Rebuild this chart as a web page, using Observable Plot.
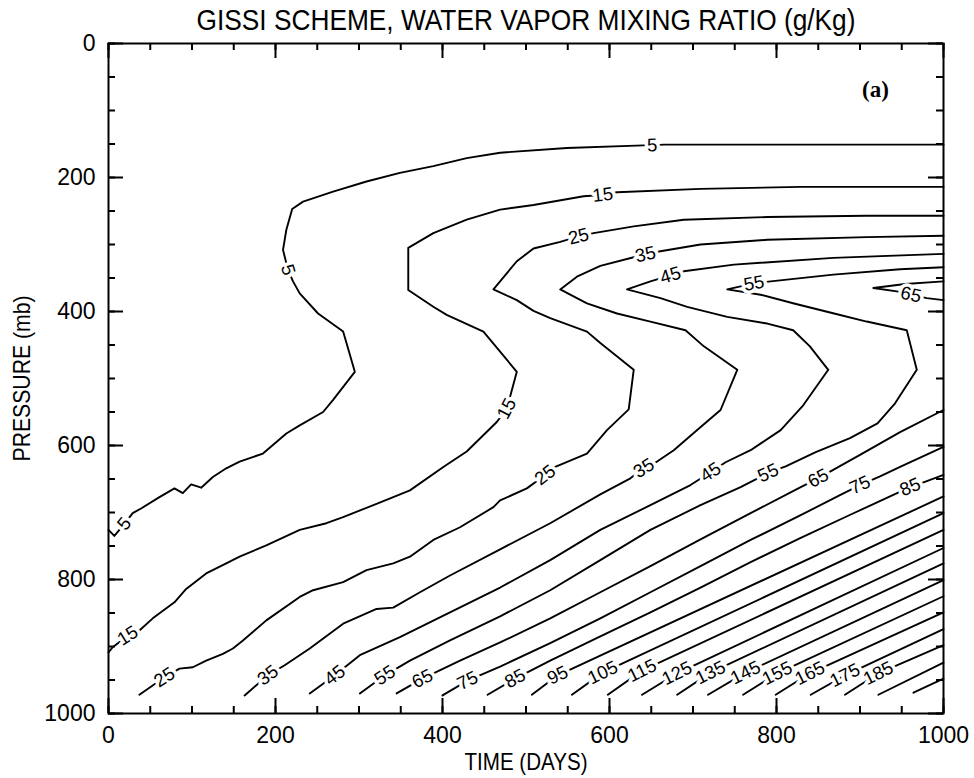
<!DOCTYPE html>
<html lang="en">
<head>
<meta charset="utf-8">
<title>GISSI scheme, water vapor mixing ratio</title>
<script src="https://cdn.jsdelivr.net/npm/d3@7"></script>
<script src="https://cdn.jsdelivr.net/npm/@observablehq/plot@0.6"></script>
<style>
  html, body { margin: 0; padding: 0; background: #fff; }
  #chart svg { display: block; }
</style>
</head>
<body>
<div id="chart"></div>
<script>
// Axis tick values
const timeLabels = [0, 200, 400, 600, 800, 1000];
const timeTicks = [0, 50, 100, 150, 200, 250, 300, 350, 400, 450, 500, 550, 600, 650, 700, 750, 800, 850, 900, 950, 1000];
const pressureLabels = [0, 200, 400, 600, 800, 1000];
const pressureTicks = [0, 50, 100, 150, 200, 250, 300, 350, 400, 450, 500, 550, 600, 650, 700, 750, 800, 850, 900, 950, 1000];

// Mixing-ratio isolines, each point is [time (days), pressure (mb)]
const q5 = [[1000,151],[909,151],[789,151],[665,151],[651,152],[641,152],[549,156],[469,163],[429,171],[389,183],[349,193],[309,206],[269,221],[233,236],[220,247],[213,278],[209,308],[215,338],[221,355],[229,373],[251,403],[281,430],[295,490],[269,532],[257,550],[229,570],[213,582],[185,612],[157,624],[141,634],[125,647],[111,663],[99,658],[89,671],[79,664],[61,677],[39,694],[29,701],[19,717],[7,735],[0,726]];
const q15 = [[1000,214],[829,214],[709,217],[609,222],[592,226],[569,228],[509,241],[469,248],[429,263],[389,283],[359,305],[359,368],[389,393],[405,405],[449,430],[489,490],[481,527],[477,545],[465,565],[429,609],[401,632],[361,667],[341,677],[321,687],[281,707],[261,716],[229,726],[189,749],[157,766],[141,776],[117,791],[93,814],[79,834],[53,858],[37,876],[23,884],[5,901],[0,909]];
const q25 = [[1000,257],[908,257],[789,259],[689,263],[629,273],[581,283],[563,288],[541,296],[509,306],[489,325],[461,367],[489,383],[509,399],[529,410],[573,430],[589,447],[629,487],[623,546],[597,577],[573,612],[535,632],[523,644],[501,664],[469,682],[461,692],[421,722],[389,741],[361,766],[341,776],[309,786],[281,804],[245,816],[229,826],[189,861],[161,891],[149,903],[137,911],[117,921],[101,931],[85,933],[67,946],[37,972]];
const q35 = [[1000,287],[908,289],[789,293],[709,300],[661,310],[643,315],[629,319],[589,332],[561,348],[541,367],[573,388],[609,403],[649,415],[691,428],[713,452],[753,487],[733,547],[705,577],[677,607],[657,624],[641,634],[625,649],[589,673],[529,716],[469,755],[409,794],[373,819],[341,842],[321,844],[281,866],[241,903],[211,928],[191,943],[163,973]];
const q45 = [[1000,314],[868,320],[749,330],[689,340],[673,346],[649,355],[621,367],[661,380],[693,393],[741,408],[789,418],[820,428],[840,452],[862,487],[832,540],[805,577],[769,607],[739,625],[721,640],[697,659],[649,689],[589,726],[529,771],[469,812],[409,849],[349,886],[301,913],[271,943],[241,970]];
const q55 = [[1000,334],[948,337],[868,345],[793,355],[773,358],[741,367],[781,375],[821,388],[869,403],[908,415],[956,428],[968,487],[942,537],[921,567],[888,589],[847,610],[811,631],[790,641],[757,662],[709,689],[649,726],[589,771],[529,816],[469,855],[409,891],[361,921],[331,943],[301,970]];
const q65upper = [[1000,355],[954,359],[916,365],[944,370],[961,375],[980,380],[1000,383]];
const q65lower = [[1000,547],[948,580],[900,614],[870,635],[850,649],[829,662],[769,701],[709,740],[649,780],[589,819],[529,858],[469,894],[421,921],[376,948],[345,970]];
const q75 = [[1000,602],[948,632],[924,646],[900,659],[876,674],[829,704],[769,741],[709,780],[649,819],[589,858],[529,895],[469,930],[430,951],[400,973]];
const q85 = [[1000,644],[976,655],[960,662],[936,676],[889,703],[829,738],[769,774],[709,812],[649,849],[589,885],[529,921],[487,948],[454,972]];
const q95 = [[507,972],[538,943],[1000,676]];
const q105 = [[555,972],[592,939],[1000,701]];
const q115 = [[598,972],[639,936],[1000,726]];
const q125 = [[639,972],[681,940],[1000,753]];
const q135 = [[681,972],[721,939],[1000,776]];
const q145 = [[718,972],[763,939],[1000,801]];
const q155 = [[760,972],[801,940],[1000,825]];
const q165 = [[799,972],[840,940],[1000,849]];
const q175 = [[841,972],[882,943],[1000,874]];
const q185 = [[882,972],[922,940],[1000,898]];
const q195 = [[922,972],[1000,924]];
const q205 = [[964,969],[1000,948]];

const contours = [
  {id: "5", level: 5, pts: q5},
  {id: "15", level: 15, pts: q15},
  {id: "25", level: 25, pts: q25},
  {id: "35", level: 35, pts: q35},
  {id: "45", level: 45, pts: q45},
  {id: "55", level: 55, pts: q55},
  {id: "65u", level: 65, pts: q65upper},
  {id: "65l", level: 65, pts: q65lower},
  {id: "75", level: 75, pts: q75},
  {id: "85", level: 85, pts: q85},
  {id: "95", level: 95, pts: q95},
  {id: "105", level: 105, pts: q105},
  {id: "115", level: 115, pts: q115},
  {id: "125", level: 125, pts: q125},
  {id: "135", level: 135, pts: q135},
  {id: "145", level: 145, pts: q145},
  {id: "155", level: 155, pts: q155},
  {id: "165", level: 165, pts: q165},
  {id: "175", level: 175, pts: q175},
  {id: "185", level: 185, pts: q185},
  {id: "195", level: 195, pts: q195},
  {id: "205", level: 205, pts: q205}
];

// Where each isoline carries its value label (a point on that isoline)
const labelSpots = [
  {id: "5", t: 651, p: 152}, {id: "5", t: 215, p: 338}, {id: "5", t: 19, p: 717},
  {id: "15", t: 592, p: 226}, {id: "15", t: 477, p: 545}, {id: "15", t: 23, p: 884},
  {id: "25", t: 563, p: 288}, {id: "25", t: 523, p: 644}, {id: "25", t: 67, p: 946},
  {id: "35", t: 643, p: 315}, {id: "35", t: 641, p: 634}, {id: "35", t: 191, p: 943},
  {id: "45", t: 673, p: 346}, {id: "45", t: 721, p: 640}, {id: "45", t: 271, p: 943},
  {id: "55", t: 773, p: 358}, {id: "55", t: 790, p: 641}, {id: "55", t: 331, p: 943},
  {id: "65u", t: 961, p: 375},
  {id: "65l", t: 850, p: 649}, {id: "65l", t: 376, p: 948},
  {id: "75", t: 900, p: 659}, {id: "75", t: 430, p: 951},
  {id: "85", t: 960, p: 662}, {id: "85", t: 487, p: 948},
  {id: "95", t: 538, p: 943}, {id: "105", t: 592, p: 939}, {id: "115", t: 639, p: 936},
  {id: "125", t: 681, p: 940}, {id: "135", t: 721, p: 939}, {id: "145", t: 763, p: 939},
  {id: "155", t: 801, p: 940}, {id: "165", t: 840, p: 940}, {id: "175", t: 882, p: 943},
  {id: "185", t: 922, p: 940}
];

const FONT = "'Liberation Sans', Arimo, Arial, sans-serif";
const width = 974, height = 778;
const layout = {width, height, marginLeft: 108, marginRight: 31, marginTop: 43, marginBottom: 65};
const innerW = width - layout.marginLeft - layout.marginRight;
const innerH = height - layout.marginTop - layout.marginBottom;
const scaleOptions = {x: {domain: [0, 1000]}, y: {domain: [0, 1000], reverse: true}};

const rows = contours.flatMap(c => c.pts.map(([t, p]) => ({id: c.id, t, p})));
const levelOf = Object.fromEntries(contours.map(c => [c.id, c.level]));
const ptsOf = Object.fromEntries(contours.map(c => [c.id, c.pts]));

// Same scales as the final chart, used to orient labels along their isoline
const probe = Plot.plot({...layout, ...scaleOptions, marks: [Plot.line(rows, {x: "t", y: "p", z: "id"})]});
const sx = probe.scale("x"), sy = probe.scale("y");

function labelAngle(spot) {
  const pts = ptsOf[spot.id];
  let best = 0, bestD = Infinity;
  pts.forEach(([t, p], i) => {
    const d = (t - spot.t) ** 2 + (p - spot.p) ** 2;
    if (d < bestD) { bestD = d; best = i; }
  });
  const a = pts[Math.max(0, best - 1)], b = pts[Math.min(pts.length - 1, best + 1)];
  const dx = sx.apply(b[0]) - sx.apply(a[0]);
  const dy = sy.apply(b[1]) - sy.apply(a[1]);
  let ang = Math.atan2(dy, dx) * 180 / Math.PI;
  if (ang > 90) ang -= 180;
  if (ang < -90) ang += 180;
  return ang;
}

const chart = Plot.plot({
  ...layout,
  ...scaleOptions,
  style: {fontFamily: FONT, background: "#fff", color: "#000"},
  marks: [
    Plot.line(rows, {x: "t", y: "p", z: "id", stroke: "#000", strokeWidth: 1.9, strokeLinejoin: "round"}),
    Plot.text(labelSpots, {
      x: "t", y: "p",
      text: d => String(levelOf[d.id]),
      rotate: labelAngle,
      fontSize: 18.5, fill: "#000",
      stroke: "#fff", strokeWidth: 7, paintOrder: "stroke",
      textAnchor: "middle", lineAnchor: "middle"
    }),
    // inward ticks on all four sides
    Plot.ruleX(timeTicks, {x: d => d, insetTop: innerH - 7, stroke: "#000", strokeWidth: 2}),
    Plot.ruleX(timeTicks, {x: d => d, insetBottom: innerH - 7, stroke: "#000", strokeWidth: 2}),
    Plot.ruleX(timeLabels, {x: d => d, insetTop: innerH - 15, stroke: "#000", strokeWidth: 2}),
    Plot.ruleX(timeLabels, {x: d => d, insetBottom: innerH - 15, stroke: "#000", strokeWidth: 2}),
    Plot.ruleY(pressureTicks, {y: d => d, insetRight: innerW - 7, stroke: "#000", strokeWidth: 2}),
    Plot.ruleY(pressureTicks, {y: d => d, insetLeft: innerW - 7, stroke: "#000", strokeWidth: 2}),
    Plot.ruleY(pressureLabels, {y: d => d, insetRight: innerW - 15, stroke: "#000", strokeWidth: 2}),
    Plot.ruleY(pressureLabels, {y: d => d, insetLeft: innerW - 15, stroke: "#000", strokeWidth: 2}),
    Plot.frame({stroke: "#000", strokeWidth: 2}),
    Plot.axisX({ticks: timeLabels, tickFormat: "d", tickSize: 0, tickPadding: 13, fontSize: 23, label: null}),
    Plot.axisY({ticks: pressureLabels, tickFormat: "d", tickSize: 0, tickPadding: 13, fontSize: 23, label: null}),
    Plot.text(["GISSI SCHEME, WATER VAPOR MIXING RATIO (g/Kg)"], {
      text: d => d, frameAnchor: "top", dy: -23, fontSize: 29, lineAnchor: "middle", textAnchor: "middle", fill: "#000"
    }),
    Plot.text(["TIME (DAYS)"], {
      text: d => d, frameAnchor: "bottom", dy: 49, fontSize: 24, lineAnchor: "middle", textAnchor: "middle", fill: "#000"
    }),
    Plot.text(["PRESSURE (mb)"], {
      text: d => d, frameAnchor: "left", dx: -86, rotate: -90, fontSize: 24, lineAnchor: "middle", textAnchor: "middle", fill: "#000"
    }),
    Plot.text(["(a)"], {
      text: d => d, frameAnchor: "top-right", dx: -68, dy: 46, fontSize: 23, fontWeight: "bold",
      fontFamily: "'Liberation Serif', 'Times New Roman', serif", lineAnchor: "middle", textAnchor: "middle", fill: "#000"
    })
  ]
});

// Narrow lettering for the title and axis names
const squeeze = {"GISSI SCHEME, WATER VAPOR MIXING RATIO (g/Kg)": 659, "TIME (DAYS)": 123, "PRESSURE (mb)": 166};
d3.select(chart).selectAll("text").each(function () {
  const s = this.textContent;
  if (Object.prototype.hasOwnProperty.call(squeeze, s)) {
    d3.select(this).attr("textLength", squeeze[s]).attr("lengthAdjust", "spacingAndGlyphs");
  }
});

document.getElementById("chart").appendChild(chart);
</script>
</body>
</html>
